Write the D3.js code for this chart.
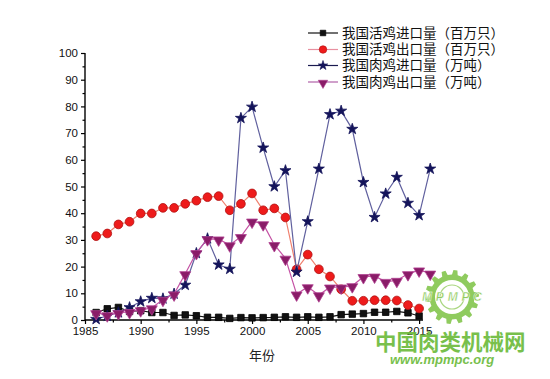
<!DOCTYPE html>
<html>
<head>
<meta charset="utf-8">
<script src="https://cdn.jsdelivr.net/npm/d3@7"></script>
<style>
  html, body { margin: 0; padding: 0; background: #fff; }
  svg { display: block; }
</style>
</head>
<body>
<svg id="chart" width="550" height="379"></svg>
<script>
// ---------- data ----------
const yearsA = d3.range(1986, 2016); // 1986–2015
const yearsB = d3.range(1986, 2017); // 1986–2016
const liveImport = [2.8, 4.2, 4.7, 3.2, 3.5, 2.8, 2.8, 1.7, 1.9, 1.6, 1.0, 1.0, 0.6, 0.9, 0.8, 0.9, 1.0, 1.2, 1.0, 1.2, 1.0, 1.2, 2.0, 2.2, 2.4, 2.9, 2.9, 3.2, 2.7, 1.5];
const liveExport = [31.4, 32.4, 35.8, 36.8, 39.9, 39.9, 42.0, 42.0, 43.5, 44.7, 46.0, 46.4, 41.1, 43.5, 47.4, 41.1, 41.8, 38.4, 19.0, 24.5, 19.0, 16.3, 11.5, 7.2, 7.2, 7.4, 7.4, 7.3, 5.6, 4.3];
const meatImport = [0.3, 1.5, 2.8, 4.7, 6.9, 8.2, 8.0, 9.8, 13.1, 25.0, 30.5, 20.7, 19.1, 75.6, 79.8, 64.5, 50.0, 56.0, 18.0, 36.9, 56.6, 77.0, 78.3, 71.5, 51.6, 38.5, 47.3, 53.5, 43.8, 39.2, 56.6];
const meatExport = [2.7, 1.9, 2.7, 3.1, 3.8, 4.5, 7.7, 9.7, 17.3, 25.2, 30.4, 30.3, 28.1, 31.2, 37.0, 36.0, 28.2, 23.1, 9.7, 12.4, 9.4, 12.3, 12.3, 12.8, 16.2, 16.4, 14.4, 14.8, 17.3, 18.7, 17.5];
const seriesNames = ["我国活鸡进口量（百万只）", "我国活鸡出口量（百万只）", "我国肉鸡进口量（万吨）", "我国肉鸡出口量（万吨）"];
const xTicks = [1985, 1990, 1995, 2000, 2005, 2010, 2015];
const yTicks = [0, 10, 20, 30, 40, 50, 60, 70, 80, 90, 100];
const xLabel = "年份";
const watermarkCn = "中国肉类机械网";
const watermarkUrl = "www.mpmpc.org";
const logoText = "MPMPC";

// ---------- setup ----------
const svg = d3.select("#chart");
const x = d3.scaleLinear().domain([1985, 2015.35]).range([85, 423]);
const y = d3.scaleLinear().domain([0, 100]).range([320, 53]);

const styles = [
  { line: "#111111", fill: "#111111", stroke: "#000000", sym: d3.symbolSquare, size: 42, rot: 0, legendLine: "#111" },
  { line: "#f0806e", fill: "#ee1b1b", stroke: "#b01010", sym: d3.symbolCircle, size: 60, rot: 0, legendLine: "#e890a0" },
  { line: "#60609e", fill: "#14145a", stroke: "#14145a", sym: d3.symbolStar, size: 38, rot: 0, legendLine: "#1a1a50" },
  { line: "#c452a4", fill: "#8a1c68", stroke: "#b04090", sym: d3.symbolTriangle, size: 52, rot: 180, legendLine: "#b060a8" }
];
const allSeries = [
  { years: yearsA, vals: liveImport },
  { years: yearsA, vals: liveExport },
  { years: yearsB, vals: meatImport },
  { years: yearsB, vals: meatExport }
];

// ---------- watermark logo (behind) ----------
const logo = svg.append("g").attr("transform", "translate(452,297)").attr("opacity", 0.85);
const teeth = 14, rOut = 27, rIn = 22.5;
let pts = [];
for (let i = 0; i < teeth; i++) {
  const a0 = (i / teeth) * 2 * Math.PI;
  const step = 2 * Math.PI / teeth;
  pts.push([a0, rIn], [a0 + step * 0.12, rOut], [a0 + step * 0.45, rOut], [a0 + step * 0.57, rIn]);
}
logo.append("path")
  .attr("d", d3.lineRadial().angle(d => d[0]).radius(d => d[1]).curve(d3.curveLinearClosed)(pts))
  .attr("fill", "#7cc242");
logo.append("circle").attr("r", 17).attr("fill", "#fff");
logo.append("circle").attr("r", 12).attr("fill", "none").attr("stroke", "#9bd06a").attr("stroke-width", 1.2);
logo.append("text").attr("x", 0).attr("y", 4).attr("text-anchor", "middle")
  .attr("font-family", "Liberation Sans, Arial, sans-serif").attr("font-style", "italic").attr("font-weight", "bold")
  .attr("font-size", 12).attr("fill", "#7cc242").attr("stroke", "#fff").attr("stroke-width", 0.4)
  .attr("textLength", 60).text(logoText);

// ---------- axes ----------
const axisFont = "Liberation Sans, Arial, sans-serif";
const xAxis = svg.append("g").attr("transform", "translate(0,320)")
  .call(d3.axisBottom(x).tickValues(xTicks).tickFormat(d3.format("d")).tickSize(4).tickPadding(3));
const xMinor = svg.append("g").attr("transform", "translate(0,320)")
  .call(d3.axisBottom(x).tickValues(d3.range(1987.5, 2015, 5)).tickFormat("").tickSize(2.5));
xMinor.select(".domain").remove();

const yAxis = svg.append("g").attr("transform", "translate(85,0)")
  .call(d3.axisLeft(y).tickValues(yTicks).tickSize(4).tickPadding(3));
const yMinor = svg.append("g").attr("transform", "translate(85,0)")
  .call(d3.axisLeft(y).tickValues(d3.range(5, 100, 10)).tickFormat("").tickSize(2.5));
yMinor.select(".domain").remove();

[xAxis, yAxis, xMinor, yMinor].forEach(g => {
  g.selectAll("path.domain").attr("stroke", "#000").attr("stroke-width", 1.4);
  g.selectAll(".tick line").attr("stroke", "#000").attr("stroke-width", 1.2);
  g.selectAll("text").attr("font-family", axisFont).attr("font-size", 11.5).attr("fill", "#111");
});
xAxis.select(".domain").attr("d", `M${x(1985)},0H${x(2015.35)}`);
yAxis.select(".domain").attr("d", `M0,${y(0)}V${y(100)}`);

svg.append("text").attr("x", 262).attr("y", 360).attr("text-anchor", "middle")
  .attr("font-family", "Noto Sans CJK SC, sans-serif").attr("font-size", 13).attr("fill", "#222")
  .text(xLabel);

// ---------- series ----------
const plot = svg.append("g");
allSeries.forEach((s, i) => {
  const st = styles[i];
  const data = s.years.map((yr, j) => ({ yr, v: s.vals[j] }));
  plot.append("path").datum(data)
    .attr("d", d3.line().x(d => x(d.yr)).y(d => y(d.v)))
    .attr("fill", "none").attr("stroke", st.line).attr("stroke-width", 1.2);
  plot.append("g").selectAll("path").data(data).join("path")
    .attr("d", d3.symbol().type(st.sym).size(st.size))
    .attr("transform", d => `translate(${x(d.yr)},${y(d.v) + (st.rot ? 1 : 0)}) rotate(${st.rot})`)
    .attr("fill", st.fill).attr("stroke", st.stroke).attr("stroke-width", 0.8);
});

// ---------- legend ----------
const legend = svg.append("g");
const rowY = [33, 49.5, 65.5, 82];
seriesNames.forEach((name, i) => {
  const st = styles[i];
  const g = legend.append("g").attr("transform", `translate(0,${rowY[i]})`);
  g.append("line").attr("x1", 308).attr("x2", 338).attr("y1", 0).attr("y2", 0)
    .attr("stroke", st.legendLine).attr("stroke-width", 1.2);
  g.append("path").attr("d", d3.symbol().type(st.sym).size(st.size * 0.75))
    .attr("transform", `translate(323,${st.rot ? 1 : 0}) rotate(${st.rot})`)
    .attr("fill", st.fill).attr("stroke", st.stroke).attr("stroke-width", 0.6);
  g.append("text").attr("x", 342).attr("y", 0).attr("dy", "0.36em")
    .attr("font-family", "Noto Sans CJK SC, sans-serif").attr("font-size", 13.5).attr("fill", "#111")
    .text(name);
});

// ---------- watermark text ----------
svg.append("text").attr("x", 375).attr("y", 350)
  .attr("font-family", "Noto Sans CJK SC, sans-serif").attr("font-weight", "bold")
  .attr("font-size", 21.5).attr("fill", "#6dbb3c").attr("opacity", 0.92)
  .text(watermarkCn);
svg.append("text").attr("x", 390).attr("y", 364)
  .attr("font-family", "Liberation Sans, Arial, sans-serif").attr("font-weight", "bold").attr("font-style", "italic")
  .attr("font-size", 13).attr("fill", "#6dbb3c").attr("opacity", 0.92)
  .text(watermarkUrl);
</script>
</body>
</html>
